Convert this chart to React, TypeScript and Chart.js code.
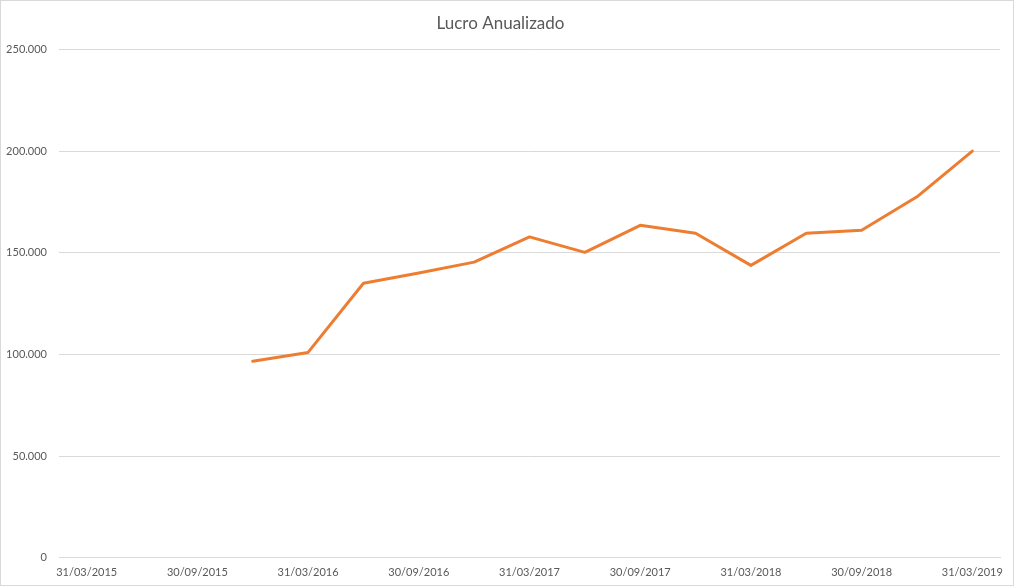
import React, { useEffect, useRef } from "react";
import { Chart, registerables } from "chart.js";

Chart.register(...registerables);

const TITLE = "Lucro Anualizado";

const CATEGORIES: string[] = [
  "31/03/2015", "30/06/2015", "30/09/2015", "31/12/2015",
  "31/03/2016", "30/06/2016", "30/09/2016", "31/12/2016",
  "31/03/2017", "30/06/2017", "30/09/2017", "31/12/2017",
  "31/03/2018", "30/06/2018", "30/09/2018", "31/12/2018",
  "31/03/2019",
];

const LUCRO: (number | null)[] = [
  null, null, null, 96600,
  101000, 135000, 140000, 145400,
  157800, 150200, 163500, 159600,
  143800, 159600, 161100, 177500,
  200000,
];

const Y_MAX = 250000;
const Y_STEP = 50000;

const FONT = "Lato, 'Open Sans', 'Noto Sans', sans-serif";
const TEXT_COLOR = "#595959";
const GRID_COLOR = "#D9D9D9";
const LINE_COLOR = "#ED7D31";

function fmt(v: number): string {
  if (v === 0) return "0";
  return Math.round(v).toString().replace(/\B(?=(\d{3})+(?!\d))/g, ".");
}

export default function App() {
  const ref = useRef<HTMLCanvasElement | null>(null);

  useEffect(() => {
    if (!ref.current) return;
    const chart = new Chart(ref.current, {
      type: "line",
      data: {
        labels: CATEGORIES,
        datasets: [
          {
            label: TITLE,
            data: LUCRO,
            borderColor: LINE_COLOR,
            backgroundColor: LINE_COLOR,
            borderWidth: 3,
            pointRadius: 0,
            pointHoverRadius: 0,
            tension: 0,
            borderCapStyle: "round",
            borderJoinStyle: "round",
            spanGaps: false,
          },
        ],
      },
      options: {
        animation: false,
        responsive: false,
        maintainAspectRatio: false,
        layout: { padding: { left: 0, right: 13, top: 0, bottom: -2 } },
        plugins: {
          legend: { display: false },
          tooltip: { enabled: false },
          title: {
            display: true,
            text: TITLE,
            color: TEXT_COLOR,
            font: { family: FONT, size: 17, weight: "normal" },
            padding: { top: 12, bottom: 16 },
          },
        },
        scales: {
          x: {
            offset: true,
            grid: { display: false, drawTicks: false },
            border: { display: true, color: GRID_COLOR, width: 1 },
            ticks: {
              autoSkip: false,
              maxRotation: 0,
              minRotation: 0,
              padding: 8,
              color: TEXT_COLOR,
              font: { family: FONT, size: 11 },
              callback: function (_v: any, i: number) {
                return i % 2 === 0 ? CATEGORIES[i] : "";
              },
            },
          },
          y: {
            min: 0,
            max: Y_MAX,
            grid: { color: GRID_COLOR, lineWidth: 1, drawTicks: false },
            border: { display: false },
            ticks: {
              stepSize: Y_STEP,
              padding: 12,
              color: TEXT_COLOR,
              font: { family: FONT, size: 11 },
              callback: (v: any) => fmt(Number(v)),
            },
            afterFit: (scale: any) => {
              scale.width = 58;
            },
          },
        },
      },
    });
    return () => chart.destroy();
  }, []);

  return (
    <div
      style={{
        position: "absolute",
        left: 0,
        top: 0,
        width: 1014,
        height: 586,
        boxSizing: "border-box",
        border: "1px solid #D9D9D9",
        background: "#fff",
      }}
    >
      <canvas ref={ref} width={1012} height={584} style={{ display: "block" }} />
    </div>
  );
}
